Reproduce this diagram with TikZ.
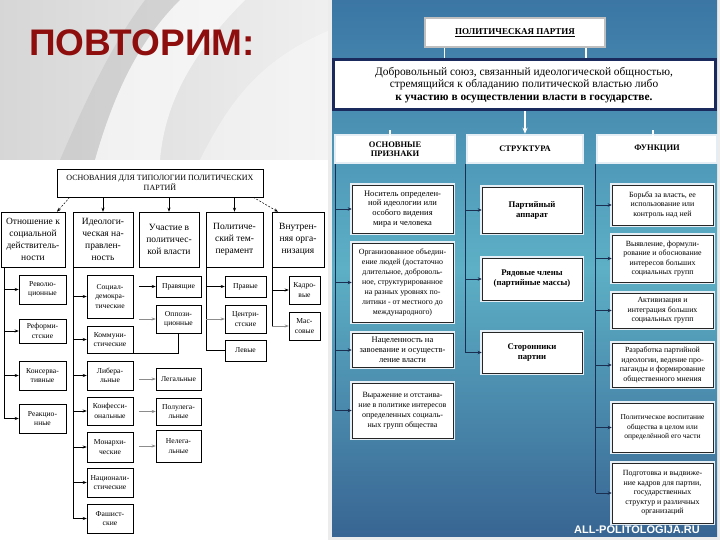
\documentclass[tikz,border=0pt]{standalone}
\usepackage{fontspec}
\setmainfont{Liberation Serif}
\newfontfamily\sansb{Liberation Sans}
\usetikzlibrary{arrows.meta,calc}
\definecolor{navy}{HTML}{1B2A5C}
\definecolor{linec}{HTML}{1A2E52}
\definecolor{titlered}{HTML}{8E0E0E}
\definecolor{ptop}{HTML}{3B76A4}
\definecolor{pmid}{HTML}{5DB0C6}
\definecolor{pbot}{HTML}{386593}
\definecolor{rim}{HTML}{E4EEF4}
\begin{document}
\begin{tikzpicture}[x=1pt,y=-1pt,
  lbox/.style={draw=black, line width=0.5pt, fill=white, align=center, inner sep=1pt, font=\fontsize{9.5}{12}\selectfont},
  sbox/.style={draw=black, line width=0.5pt, fill=white, align=center, inner sep=1pt, font=\fontsize{7.6}{9.3}\selectfont},
  larr/.style={-{Stealth[length=4pt,width=3pt]}, line width=0.5pt},
  gar/.style={larr, draw=black!45},
  rbox/.style={draw=black!85, line width=0.6pt, fill=white, align=center, inner sep=1pt, font=\fontsize{8.5}{9.9}\selectfont, preaction={draw=rim, line width=4pt}},
  hbox/.style={fill=white, draw=rim, line width=2.5pt, align=center, inner sep=1pt, font=\bfseries\fontsize{8.5}{9.5}\selectfont},
  rarr/.style={-{Stealth[length=4pt,width=3.5pt]}, draw=linec, line width=0.8pt},
  rline/.style={draw=linec, line width=0.9pt},
  warr/.style={-{Stealth[length=6pt,width=5pt]}, draw=white, line width=1.3pt}
]
\useasboundingbox (0,0) rectangle (720,540);
% ---------- left background ----------
\fill[white] (0,0) rectangle (330,540);
\shade[left color=gray!32, right color=gray!12] (0,0) rectangle (330,160);
\fill[gray!50, opacity=0.45] (60,160) .. controls (90,90) and (115,40) .. (145,0) -- (180,0) .. controls (140,40) and (115,90) .. (95,160) -- cycle;
\fill[white, opacity=0.6] (95,160) .. controls (115,90) and (140,40) .. (180,0) -- (245,0) .. controls (195,50) and (165,100) .. (160,160) -- cycle;
\fill[white, opacity=0.35] (200,160) .. controls (230,100) and (260,60) .. (330,30) -- (330,160) -- cycle;
\node[font=\sansb\bfseries\fontsize{37}{37}\selectfont, text=titlered] (title) at (142,43) {ПОВТОРИМ:};
% ---------- left diagram ----------
\node[lbox, minimum width=206pt, minimum height=28pt, font=\fontsize{8}{10}\selectfont] (osn) at (160,183) {ОСНОВАНИЯ ДЛЯ ТИПОЛОГИИ ПОЛИТИЧЕСКИХ\\ПАРТИЙ};
\node[lbox, minimum width=64pt, minimum height=55pt] (c1) at (33,239.5) {Отношение к\\социальной\\действитель-\\ности};
\node[lbox, minimum width=60pt, minimum height=55pt] (c2) at (103,239.5) {Идеологи-\\ческая на-\\правлен-\\ность};
\node[lbox, minimum width=60pt, minimum height=55pt] (c3) at (169,239.5) {Участие в\\политичес-\\кой власти};
\node[lbox, minimum width=57pt, minimum height=55pt] (c4) at (234.5,239.5) {Политиче-\\ский тем-\\перамент};
\node[lbox, minimum width=52pt, minimum height=55pt] (c5) at (298,239.5) {Внутрен-\\няя орга-\\низация};
\draw[larr, dashed, dash pattern=on 2pt off 1.5pt] ($(osn.south west)+(13,0)$) -- ($(c1.north)+(24,0)$);
\draw[larr] (c2.north |- osn.south) -- (c2.north);
\draw[larr] (c3.north |- osn.south) -- (c3.north);
\draw[larr] (c4.north |- osn.south) -- (c4.north);
\draw[larr, dashed, dash pattern=on 2pt off 1.5pt] ($(osn.south east)+(-10,0)$) -- ($(c5.north)+(-20,0)$);
% column 1
\node[sbox, minimum width=47pt, minimum height=29pt] (rev) at (42.5,289.5) {Револю-\\ционные};
\node[sbox, minimum width=47pt, minimum height=24pt] (ref) at (42.5,331) {Реформи-\\стские};
\node[sbox, minimum width=47pt, minimum height=29pt] (kon) at (42.5,375.5) {Консерва-\\тивные};
\node[sbox, minimum width=47pt, minimum height=29pt] (rea) at (42.5,418.5) {Реакцио-\\нные};
\coordinate (v1) at ($(c1.south west)+(3,0)$);
\draw[line width=0.5pt] (v1) -- (v1 |- rea.west);
\foreach \n in {rev,ref,kon,rea} \draw[larr] (v1 |- \n.west) -- (\n.west);
% column 2
\node[sbox, minimum width=46pt, minimum height=43pt] (sd) at (110,296.5) {Социал-\\демокра-\\тические};
\node[sbox, minimum width=46pt, minimum height=27pt] (kom) at (110,339.5) {Коммуни-\\стические};
\node[sbox, minimum width=46pt, minimum height=29pt] (lib) at (110,375.5) {Либера-\\льные};
\node[sbox, minimum width=46pt, minimum height=28pt] (knf) at (110,411) {Конфесси-\\ональные};
\node[sbox, minimum width=46pt, minimum height=30pt] (mon) at (110,447) {Монархи-\\ческие};
\node[sbox, minimum width=46pt, minimum height=29pt] (nac) at (110,482.5) {Национали-\\стические};
\node[sbox, minimum width=46pt, minimum height=29pt] (fas) at (110,518.5) {Фашист-\\ские};
\draw[line width=0.5pt] (c2.south west) -- (c2.south west |- fas.west);
\foreach \n in {sd,kom,lib,knf,mon,nac,fas} \draw[larr] (c2.south west |- \n.west) -- (\n.west);
% column 3
\node[sbox, minimum width=45pt, minimum height=21pt] (prv) at (178.5,286.5) {Правящие};
\node[sbox, minimum width=45pt, minimum height=28pt] (opp) at (178.5,319) {Оппози-\\ционные};
\node[sbox, minimum width=45pt, minimum height=22pt] (leg) at (178.5,379) {Легальные};
\node[sbox, minimum width=45pt, minimum height=27pt] (pol) at (178.5,411.5) {Полулега-\\льные};
\node[sbox, minimum width=45pt, minimum height=32pt] (nel) at (178.5,446) {Нелега-\\льные};
\draw[larr] (c3.south west |- prv.west) -- (prv.west);
\draw[gar] (c3.south west |- opp.west) -- (opp.west);
\draw[gar] (c3.south west |- leg.west) -- (leg.west);
\draw[gar] (c3.south west |- pol.west) -- (pol.west);
\draw[gar] (c3.south west |- nel.west) -- (nel.west);
\draw[line width=0.5pt] (kom.south east) -| (opp.south);
% column 4
\node[sbox, minimum width=41pt, minimum height=21pt] (pra) at (245.5,286.5) {Правые};
\node[sbox, minimum width=41pt, minimum height=28pt] (cen) at (245.5,319) {Центри-\\стские};
\node[sbox, minimum width=41pt, minimum height=21pt] (lev) at (245.5,350.5) {Левые};
\draw[line width=0.5pt] (c4.south west) |- (lev.west);
\draw[larr] (c4.south west |- pra.west) -- (pra.west);
\draw[gar] (c4.south west |- cen.west) -- (cen.west);
% column 5
\node[sbox, minimum width=31pt, minimum height=28pt] (kad) at (304.5,290) {Кадро-\\вые};
\node[sbox, minimum width=31pt, minimum height=28pt] (mas) at (304.5,326) {Мас-\\совые};
\draw[line width=0.5pt] (c5.south west) -- (c5.south west |- mas.west);
\draw[larr] (c5.south west |- kad.west) -- (kad.west);
\draw[gar] (c5.south west |- mas.west) -- (mas.west);
% ---------- right panel ----------
\fill[gray!15] (328,0) rectangle (720,540);
\shade[top color=ptop, bottom color=pbot, middle color=pmid] (332,0) rectangle (717,536);
\node[draw=gray!50, line width=1.5pt, fill=white, minimum width=180pt, minimum height=29pt, font=\bfseries\fontsize{9}{10}\selectfont] (pp) at (515,32.5) {\underline{ПОЛИТИЧЕСКАЯ ПАРТИЯ}};
\node[draw=navy, line width=3pt, fill=white, minimum width=382pt, minimum height=50pt, align=center, font=\fontsize{11.4}{12.8}\selectfont] (def) at (524,85) {Добровольный союз, связанный идеологической общностью,\\стремящийся к обладанию политической властью либо\\\textbf{к участию в осуществлении власти в государстве.}};
\coordinate (w1) at ($(pp.south west)+(20,0)$);
\coordinate (w2) at ($(pp.south east)+(-20,0)$);
\draw[white, line width=1.5pt] (w1) -- (w1 |- def.north);
\draw[white, line width=1.5pt] (w2) -- (w2 |- def.north);
\node[hbox, minimum width=120pt, minimum height=28pt] (h1) at (395,149) {ОСНОВНЫЕ\\ПРИЗНАКИ};
\node[hbox, minimum width=116pt, minimum height=28pt] (h2) at (525,149) {СТРУКТУРА};
\node[hbox, minimum width=120pt, minimum height=28pt] (h3) at (657,149) {ФУНКЦИИ};
\draw[warr] ($(h1.north)+(-5,0)$ |- def.south) -- ($(h1.north)+(-5,0)$);
\draw[warr] (h2.north |- def.south) -- (h2.north);
\draw[warr] ($(h3.north)+(-4,0)$ |- def.south) -- ($(h3.north)+(-4,0)$);
% column 1
\node[rbox, minimum width=101pt, minimum height=48pt] (a1) at (402.5,209) {Носитель определен-\\ной идеологии или\\особого видения\\мира и человека};
\node[rbox, minimum width=101pt, minimum height=79pt, font=\fontsize{7.9}{9.9}\selectfont] (a2) at (402.5,282.5) {Организованное объедин-\\ение людей (достаточно\\длительное, доброволь-\\ное, структурированное\\на разных уровнях по-\\литики - от местного до\\международного)};
\node[rbox, minimum width=101pt, minimum height=34pt] (a3) at (402.5,350) {Нацеленность на\\завоевание и осуществ-\\ление власти};
\node[rbox, minimum width=101pt, minimum height=55pt, font=\fontsize{8}{9.9}\selectfont] (a4) at (402.5,410.5) {Выражение и отстаива-\\ние в политике интересов\\определенных социаль-\\ных групп общества};
\coordinate (L1) at ($(h1.south west)+(2,0)$);
\draw[rline] (L1) -- (L1 |- a4.west);
\foreach \n in {a1,a2,a3,a4} \draw[rarr] (L1 |- \n.west) -- (\n.west);
% column 2
\node[rbox, minimum width=100pt, minimum height=46pt, font=\bfseries\fontsize{8.7}{10}\selectfont] (b1) at (532,210) {Партийный\\аппарат};
\node[rbox, minimum width=100pt, minimum height=42pt, font=\bfseries\fontsize{8.7}{10}\selectfont] (b2) at (532,279) {Рядовые члены\\(партийные массы)};
\node[rbox, minimum width=100pt, minimum height=41pt, font=\bfseries\fontsize{8.7}{10}\selectfont] (b3) at (532,352.5) {Сторонники\\партии};
\coordinate (L2) at (h2.south west);
\draw[rline] (L2) -- (L2 |- b3.west);
\foreach \n in {b1,b2,b3} \draw[rarr] (L2 |- \n.west) -- (\n.west);
% column 3
\node[rbox, minimum width=101pt, minimum height=40pt, font=\fontsize{7.9}{9.4}\selectfont] (f1) at (662.5,205) {Борьба за власть, ее\\использование или\\контроль над ней};
\node[rbox, minimum width=101pt, minimum height=47pt, font=\fontsize{7.9}{9.4}\selectfont] (f2) at (662.5,258.5) {Выявление, формули-\\рование и обоснование\\интересов больших\\социальных групп};
\node[rbox, minimum width=101pt, minimum height=35pt, font=\fontsize{7.9}{9.4}\selectfont] (f3) at (662.5,310.5) {Активизация и\\интеграция больших\\социальных групп};
\node[rbox, minimum width=101pt, minimum height=44pt, font=\fontsize{7.9}{9.4}\selectfont] (f4) at (662.5,365) {Разработка партийной\\идеологии, ведение про-\\паганды и формирование\\общественного мнения};
\node[rbox, minimum width=101pt, minimum height=49pt, font=\fontsize{7.5}{9.6}\selectfont] (f5) at (662.5,427.5) {Политическое воспитание\\общества в целом или\\определённой его части};
\node[rbox, minimum width=101pt, minimum height=60pt, font=\fontsize{7.9}{9.4}\selectfont] (f6) at (662.5,493) {Подготовка и выдвиже-\\ние кадров для партии,\\государственных\\структур и различных\\организаций};
\coordinate (L3) at (h3.south west);
\draw[rline] (L3) -- (L3 |- f6.west);
\foreach \n in {f1,f2,f3,f4,f5,f6} \draw[rarr] (L3 |- \n.west) -- (\n.west);
\node[font=\sansb\bfseries\fontsize{11}{11}\selectfont, text=white] (wm) at (637,530) {ALL-POLITOLOGIJA.RU};
\end{tikzpicture}
\end{document}
